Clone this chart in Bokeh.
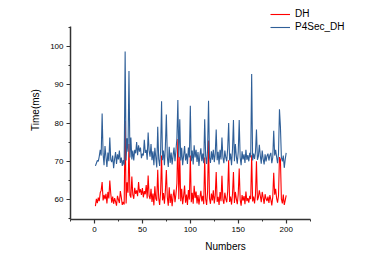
from bokeh.plotting import figure
from bokeh.models import Range1d, Legend, LegendItem, FixedTicker
from bokeh.embed import file_html
from bokeh.resources import INLINE

numbers = list(range(1, 201))

dh = [
    58.3, 60.2, 59.1, 60.5, 59.6, 61.8, 62.4, 64.6, 59.8, 61.2,
    60.1, 61.5, 59.0, 62.0, 60.3, 65.0, 61.6, 59.2, 60.8, 58.9,
    60.4, 59.5, 58.4, 61.0, 60.0, 59.1, 62.2, 60.6, 58.6, 59.4,
    58.7, 80.5, 59.0, 64.5, 61.8, 74.5, 61.2, 60.5, 66.0, 61.3,
    60.2, 63.1, 61.5, 62.4, 60.9, 64.6, 61.8, 62.7, 61.2, 63.0,
    60.6, 62.2, 61.4, 63.8, 60.3, 66.3, 61.0, 60.1, 62.8, 59.4,
    61.6, 58.5, 63.5, 60.2, 59.7, 67.8, 60.4, 58.6, 62.0, 71.5,
    59.8, 61.7, 58.9, 62.4, 67.7, 60.6, 58.4, 63.2, 59.1, 61.5,
    58.3, 60.8, 62.6, 59.3, 61.4, 64.2, 75.8, 60.1, 71.2, 59.6,
    62.8, 58.8, 60.9, 63.7, 59.2, 61.3, 58.6, 62.5, 60.0, 71.5,
    59.3, 61.8, 58.9, 63.6, 60.4, 62.1, 59.0, 61.2, 58.7, 60.6,
    62.3, 59.5, 61.0, 58.8, 71.0, 60.2, 58.6, 62.0, 75.4, 60.3,
    58.9, 61.6, 59.8, 62.4, 59.0, 61.1, 67.2, 59.4, 60.7, 58.6,
    62.0, 59.6, 66.2, 60.0, 58.9, 61.8, 60.2, 59.3, 62.2, 70.3,
    59.4, 60.8, 58.7, 61.4, 67.2, 59.1, 62.0, 60.2, 58.8, 61.5,
    68.1, 60.0, 58.4, 61.2, 59.7, 60.9, 58.8, 62.1, 59.6, 60.4,
    59.2, 61.0, 60.1, 71.6, 59.5, 60.8, 59.0, 61.3, 70.0, 59.8,
    60.6, 62.4, 61.0, 59.3, 62.0, 60.5, 58.9, 61.4, 60.2, 59.6,
    60.8, 59.1, 61.2, 60.0, 58.5, 60.7, 67.0, 61.3, 62.8, 60.4,
    59.2, 61.0, 71.1, 70.5, 60.2, 59.0, 61.3, 58.6, 59.8, 61.1,
]

p4sec_dh = [
    68.8, 69.5, 70.2, 70.0, 71.3, 73.0, 71.5, 82.5, 72.0, 69.0,
    74.0, 71.2, 68.5, 72.3, 70.0, 76.2, 70.4, 69.8, 71.5, 68.2,
    70.6, 72.4, 69.3, 71.8, 70.5, 72.8, 69.6, 71.0, 68.8, 70.3,
    69.0, 98.7, 70.2, 76.0, 72.5, 93.6, 71.0, 76.2, 70.5, 72.8,
    70.2, 73.0, 72.1, 75.0, 71.6, 74.2, 72.5, 73.6, 70.8, 72.0,
    71.5, 75.6, 72.2, 73.0, 70.4, 77.5, 72.8, 71.2, 74.5, 70.3,
    72.6, 69.0, 73.5, 71.0, 68.4, 79.0, 70.6, 68.8, 72.5, 85.7,
    70.3, 72.8, 69.0, 74.0, 82.2, 71.2, 68.5, 73.8, 69.6, 72.3,
    69.2, 71.5, 73.6, 70.0, 72.8, 76.0, 86.0, 71.0, 81.0, 70.2,
    73.5, 69.0, 71.4, 74.0, 70.2, 72.0, 69.3, 73.6, 71.0, 84.5,
    70.0, 72.8, 69.2, 74.2, 71.0, 73.0, 69.8, 72.4, 68.8, 71.6,
    73.4, 70.0, 72.0, 69.5, 81.0, 71.4, 69.3, 72.8, 85.8, 71.0,
    69.6, 72.6, 70.4, 73.0, 69.8, 72.0, 78.3, 70.3, 72.5, 69.2,
    73.0, 70.5, 76.2, 71.0, 69.5, 72.8, 71.0, 70.0, 73.4, 80.0,
    70.2, 72.0, 69.0, 73.0, 80.8, 70.0, 74.5, 71.3, 69.4, 72.5,
    80.8, 71.0, 69.0, 72.6, 70.5, 71.8, 69.6, 73.0, 70.4, 71.6,
    70.0, 72.2, 71.0, 92.8, 70.2, 72.0, 70.6, 72.5, 78.3, 70.4,
    71.3, 74.3, 71.5, 69.4, 72.8, 70.6, 69.2, 71.8, 70.0, 71.4,
    72.0, 70.2, 71.6, 72.2, 69.5, 71.0, 78.0, 71.5, 73.0, 71.2,
    69.5, 72.0, 83.6, 79.0, 71.0, 70.0, 71.5, 68.3, 70.5, 72.2,
]

x_ticks = [0, 50, 100, 150, 200]
y_ticks = [60, 70, 80, 90, 100]

FONT = "Liberation Sans"

p = figure(width=380, height=255, output_backend="svg", toolbar_location=None,
           x_range=Range1d(-25, 298.4), y_range=Range1d(54.8, 112.0),
           min_border_left=70, min_border_right=0, min_border_top=0,
           min_border_bottom=36)
p.outline_line_color = None
p.grid.visible = False
p.background_fill_color = "white"
p.border_fill_color = "white"

r_dh = p.line(numbers, dh, line_color="#ff0000", line_width=1.1)
r_p4 = p.line(numbers, p4sec_dh, line_color="#2f5f98", line_width=1.1)

for ax in (p.xaxis[0], p.yaxis[0]):
    ax.axis_line_color = "#333333"
    ax.axis_line_width = 1.5
    ax.major_tick_line_color = "#333333"
    ax.minor_tick_line_color = "#333333"
    ax.major_tick_line_width = 1.2
    ax.minor_tick_line_width = 1.0
    ax.major_tick_in = 0
    ax.major_tick_out = 4
    ax.minor_tick_in = 0
    ax.minor_tick_out = 2
    ax.major_label_text_font = FONT
    ax.major_label_text_font_size = "8px"
    ax.major_label_text_color = "black"
    ax.axis_label_text_font = FONT
    ax.axis_label_text_font_size = "10px"
    ax.axis_label_text_font_style = "normal"
    ax.axis_label_text_color = "black"
    ax.major_label_standoff = 3
    ax.axis_label_standoff = 6

p.xaxis[0].ticker = FixedTicker(ticks=x_ticks, minor_ticks=[-25, 25, 75, 125, 175, 225])
p.yaxis[0].ticker = FixedTicker(ticks=y_ticks, minor_ticks=[55, 65, 75, 85, 95, 105])
p.xaxis[0].bounds = (-25, 225)
p.yaxis[0].bounds = (54.8, 105.2)
p.xaxis[0].axis_label = "Numbers"
p.yaxis[0].axis_label = "Time(ms)"

legend = Legend(items=[LegendItem(label="DH", renderers=[r_dh]),
                       LegendItem(label="P4Sec_DH", renderers=[r_p4])],
                location=(200, 187), orientation="vertical")
legend.border_line_color = None
legend.background_fill_alpha = 0
legend.padding = 0
legend.margin = 0
legend.spacing = 2
legend.label_height = 10
legend.glyph_height = 10
legend.glyph_width = 20
legend.label_standoff = 5
legend.label_text_font = FONT
legend.label_text_font_size = "10px"
legend.label_text_color = "black"
p.add_layout(legend, "center")

open("out.html", "w").write(file_html(p, INLINE))
